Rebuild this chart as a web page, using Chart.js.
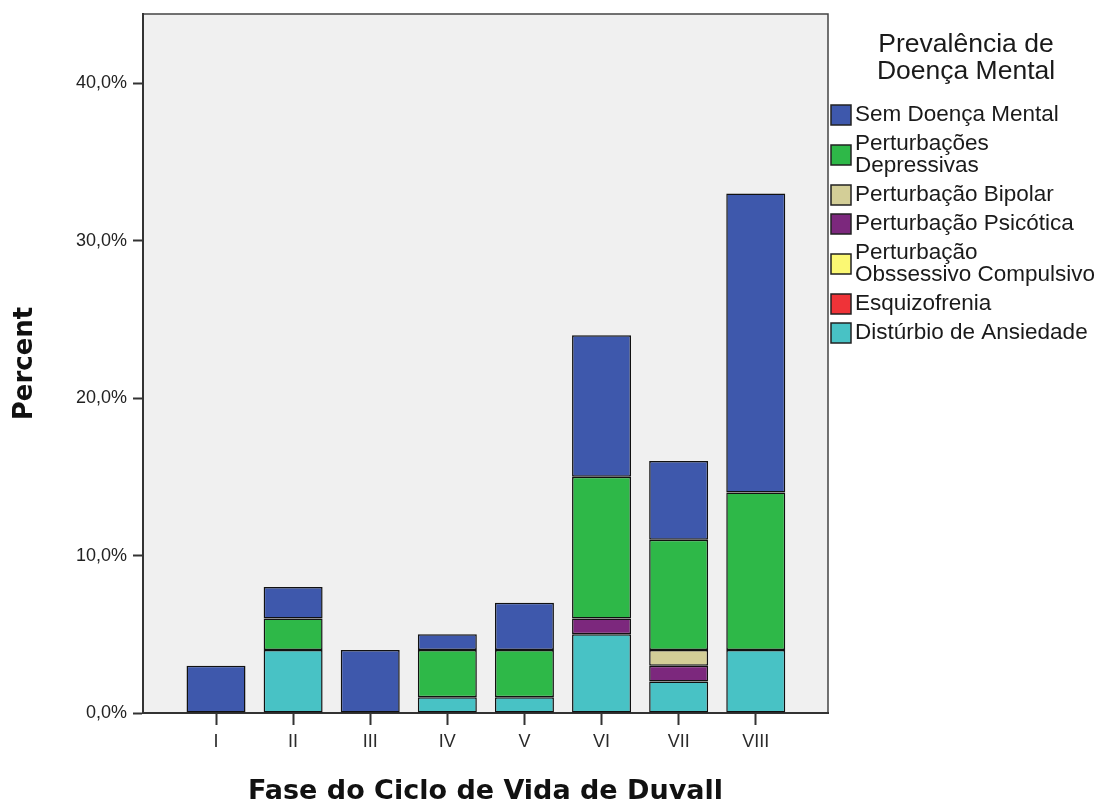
<!DOCTYPE html>
<html><head><meta charset="utf-8">
<script src="https://cdn.jsdelivr.net/npm/chart.js@4"></script>
<style>html,body{margin:0;padding:0;background:#fff}#wrap{width:1105px;height:805px;position:relative}</style>
</head><body><div id="wrap"><canvas id="c" width="1105" height="805"></canvas></div>
<script>
const categories = ['I','II','III','IV','V','VI','VII','VIII'];
const semDoenca    = [3, 2, 4, 1, 3, 9, 5, 19];
const depressivas  = [0, 2, 0, 3, 3, 9, 7, 10];
const bipolar      = [0, 0, 0, 0, 0, 0, 1, 0];
const psicotica    = [0, 0, 0, 0, 0, 1, 1, 0];
const obsessivo    = [0, 0, 0, 0, 0, 0, 0, 0];
const esquizofrenia= [0, 0, 0, 0, 0, 0, 0, 0];
const ansiedade    = [0, 4, 0, 1, 1, 5, 2, 4];
const yTicks = [0, 10, 20, 30, 40];

const legendTitle = ['Prevalência de', 'Doença Mental'];
// legend order (top to bottom)
const series = [
  {name:['Sem Doença Mental'], data:semDoenca, color:'#3e58ac'},
  {name:['Perturbações','Depressivas'], data:depressivas, color:'#2eb848'},
  {name:['Perturbação Bipolar'], data:bipolar, color:'#d3ce97'},
  {name:['Perturbação Psicótica'], data:psicotica, color:'#7c287d'},
  {name:['Perturbação','Obssessivo Compulsivo'], data:obsessivo, color:'#fbf873'},
  {name:['Esquizofrenia'], data:esquizofrenia, color:'#ef3338'},
  {name:['Distúrbio de Ansiedade'], data:ansiedade, color:'#48c2c5'}
];

Chart.defaults.font.family = '"Liberation Sans", Arial, sans-serif';

const bgPlugin = {
  id:'bg',
  beforeDraw(chart){
    const {ctx, chartArea:a} = chart;
    ctx.save();
    ctx.fillStyle = '#f0f0f0';
    ctx.fillRect(a.left, a.top, a.right-a.left, a.bottom-a.top);
    ctx.strokeStyle = '#444';
    ctx.lineWidth = 1.5;
    ctx.strokeRect(a.left, a.top, a.right-a.left, a.bottom-a.top);
    ctx.restore();
  }
};

const legendPlugin = {
  id:'customLegend',
  afterDraw(chart){
    const {ctx, chartArea:a} = chart;
    ctx.save();
    ctx.fillStyle = '#1a1a1a';
    ctx.textBaseline = 'middle';
    ctx.textAlign = 'center';
    ctx.font = '26.5px "Liberation Sans", Arial, sans-serif';
    legendTitle.forEach((t,i)=>ctx.fillText(t, 966, 45 + i*27));
    ctx.textAlign = 'left';
    ctx.font = '22.5px "Liberation Sans", Arial, sans-serif';
    const lineH = 22, gap = 7;
    let y = 115;
    series.forEach(s=>{
      const n = s.name.length;
      const boxC = y + (n-1)*lineH/2;
      ctx.fillStyle = s.color;
      ctx.fillRect(a.right+3, boxC-10, 20, 20);
      ctx.strokeStyle = '#222';
      ctx.lineWidth = 1.5;
      ctx.strokeRect(a.right+3, boxC-10, 20, 20);
      ctx.fillStyle = '#1a1a1a';
      s.name.forEach((t,k)=>ctx.fillText(t, a.right+27, y + k*lineH));
      y += n*lineH + gap;
    });
    ctx.restore();
  }
};

const datasets = series.slice().reverse().map(s=>({
  label: s.name.join(' '),
  data: categories.map((c,i)=>({x:i+1, y: s.data[i] || null})),
  backgroundColor: s.color,
  borderColor: '#111',
  borderWidth: 1.5,
  borderSkipped: false,
  barPercentage: 0.765,
  categoryPercentage: 1
}));

new Chart(document.getElementById('c'), {
  type:'bar',
  data:{ datasets },
  options:{
    responsive:false, animation:false, devicePixelRatio:1,
    layout:{ padding:{ top:14, right:277, bottom:0, left:0 } },
    plugins:{ legend:{display:false}, tooltip:{enabled:false} },
    scales:{
      x:{
        type:'linear', stacked:true, min:0.053, max:8.937, bounds:'data', offset:false,
        afterBuildTicks: s => { s.ticks = categories.map((c,i)=>({value:i+1})); },
        afterFit: s => { s.height = 92; s.paddingLeft = 0; s.paddingRight = 0; },
        ticks:{ callback: v => categories[v-1] ?? '', autoSkip:false, maxRotation:0,
          font:{size:18}, color:'#2a2a2a', padding:6 },
        grid:{ offset:false, drawOnChartArea:false, drawTicks:true, tickLength:12, tickColor:'#333', tickWidth:2 },
        border:{ display:true, color:'#333', width:2 },
        title:{ display:true, text:'Fase do Ciclo de Vida de Duvall',
          font:{family:'"DejaVu Sans", sans-serif', size:27, weight:'bold', lineHeight:1},
          color:'#111', padding:{top:0, bottom:0} }
      },
      y:{
        type:'linear', stacked:true, min:0, max:44.4, bounds:'data',
        afterBuildTicks: s => { s.ticks = yTicks.map(v=>({value:v})); },
        afterFit: s => { s.width = 143; s.paddingTop = 0; s.paddingBottom = 0; },
        ticks:{ callback: v => v.toFixed(1).replace('.', ',') + '%',
          font:{size:18}, color:'#222', padding:6 },
        grid:{ drawOnChartArea:false, drawTicks:true, tickLength:10, tickColor:'#333', tickWidth:2 },
        border:{ display:true, color:'#333', width:2 },
        title:{ display:true, text:'Percent',
          font:{family:'"DejaVu Sans", sans-serif', size:26, weight:'bold', lineHeight:1},
          color:'#111', padding:{top:12, bottom:0} }
      }
    }
  },
  plugins:[bgPlugin, legendPlugin]
});
</script></body></html>
